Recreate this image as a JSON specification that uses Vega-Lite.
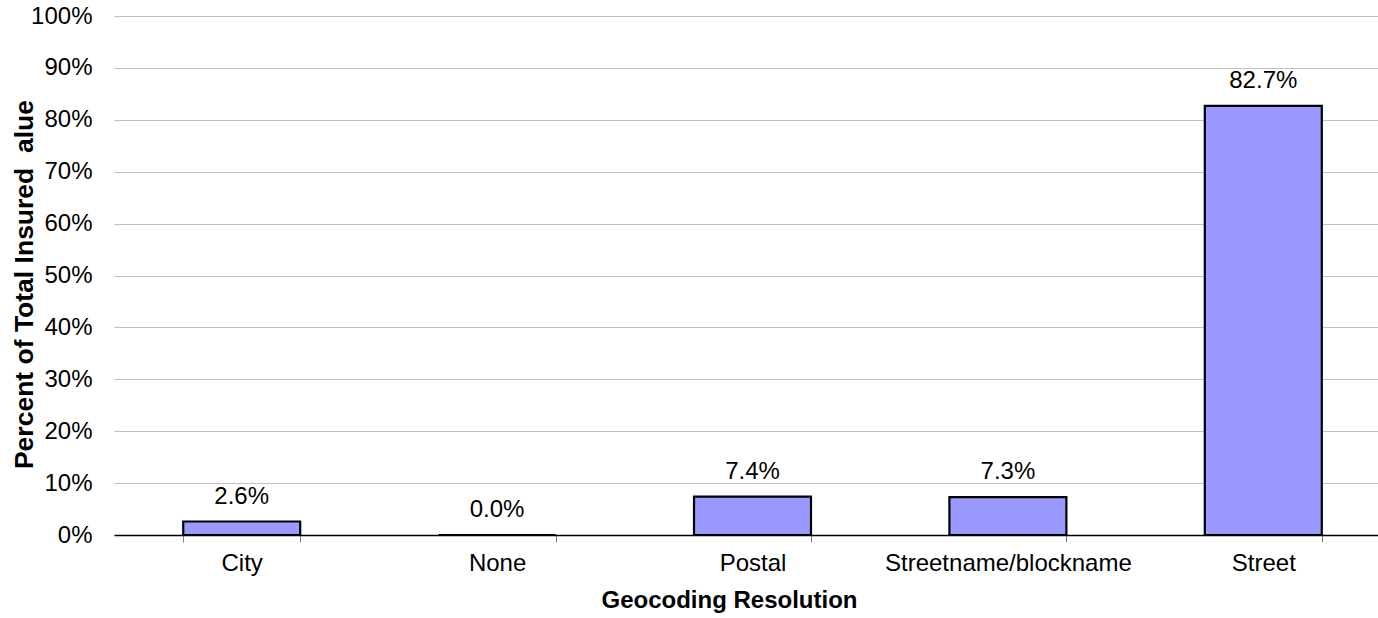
{
  "$schema": "https://vega.github.io/schema/vega-lite/v6.json",
  "autosize": {"type": "none"},
  "padding": {"left": 114, "top": 16, "right": 0, "bottom": 83},
  "width": 1264,
  "height": 519,
  "config": {
    "font": "Liberation Sans",
    "view": {"stroke": null},
    "background": "white"
  },
  "data": {
    "values": [
      {"resolution": "City", "share": 0.026},
      {"resolution": "None", "share": 0.0},
      {"resolution": "Postal", "share": 0.074},
      {"resolution": "Streetname/blockname", "share": 0.073},
      {"resolution": "Street", "share": 0.827}
    ]
  },
  "encoding": {
    "x": {
      "field": "resolution",
      "type": "nominal",
      "sort": null,
      "scale": {"range": [0, 1277], "paddingInner": 0.542, "paddingOuter": 0.271},
      "axis": {
        "title": "Geocoding Resolution",
        "titleFontSize": 24,
        "titleFontWeight": "bold",
        "titleColor": "black",
        "titleX": 615,
        "titleY": 72,
        "titleAlign": "center",
        "titleBaseline": "alphabetic",
        "labelAngle": 0,
        "labelFontSize": 24,
        "labelColor": "black",
        "labelPadding": 9,
        "labelLimit": 0,
        "tickBand": "extent",
        "tickSize": 7,
        "tickColor": "#808080",
        "tickWidth": 1,
        "domainColor": "black",
        "domainWidth": 1.5,
        "grid": false
      }
    },
    "y": {
      "field": "share",
      "type": "quantitative",
      "scale": {"domain": [0, 1], "nice": false},
      "axis": {
        "title": "Percent of Total Insured\u00a0 alue",
        "titleFontSize": 26.5,
        "titleFontWeight": "bold",
        "titleColor": "black",
        "titleAngle": -90,
        "titleX": -82,
        "titleY": 268,
        "titleAlign": "center",
        "titleBaseline": "alphabetic",
        "values": [0, 0.1, 0.2, 0.3, 0.4, 0.5, 0.6, 0.7, 0.8, 0.9, 1.0],
        "format": ".0%",
        "labelFontSize": 24,
        "labelColor": "black",
        "labelPadding": 22,
        "domain": false,
        "ticks": false,
        "grid": true,
        "gridColor": "#c0c0c0",
        "gridWidth": 1
      }
    }
  },
  "layer": [
    {
      "mark": {"type": "bar", "fill": "#9999FF", "stroke": "black", "strokeWidth": 2.2}
    },
    {
      "mark": {"type": "text", "baseline": "alphabetic", "align": "center", "dy": -18, "fontSize": 24, "color": "black"},
      "encoding": {
        "text": {"field": "share", "type": "quantitative", "format": ".1%"}
      }
    }
  ]
}
